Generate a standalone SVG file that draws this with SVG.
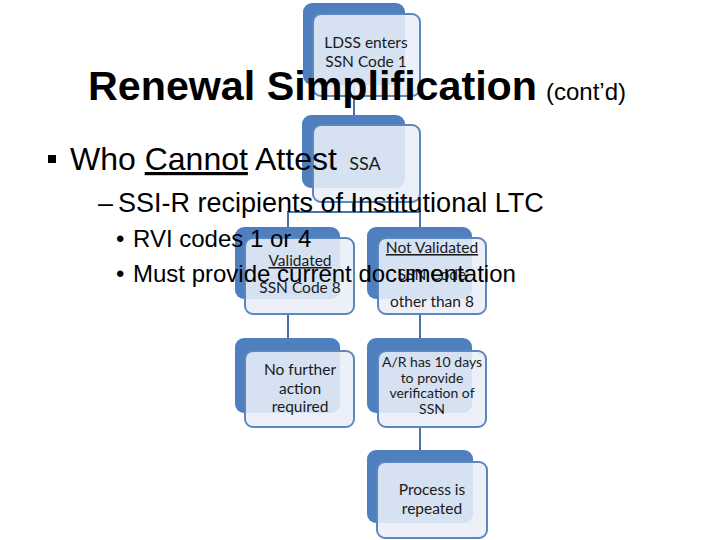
<svg xmlns="http://www.w3.org/2000/svg" width="720" height="540" viewBox="0 0 720 540">
<style>
.back{fill:#4F7FBE}
.front{fill:#E9EFF8;fill-opacity:0.88;stroke:#5B86BE;stroke-width:2}
.lbl{font-family:Lato,"Open Sans",sans-serif;font-size:15.5px;fill:#1a1a1a;text-anchor:middle}
.sm{font-size:14px}
.big{font-size:18px}
.conn{fill:none;stroke:#4A72A6;stroke-width:2}
.t{font-family:"Liberation Sans",Arial,sans-serif;fill:#000}
</style>
<rect width="720" height="540" fill="#fff"/>
<g id="connectors">
<path class="conn" d="M354,86 V116"/>
<path class="conn" d="M353,202 V212 H288 V228 M353,212 H420 V228"/>
<path class="conn" d="M288,314 V339"/>
<path class="conn" d="M420,314 V339"/>
<path class="conn" d="M420,427 V451"/>
</g>
<g id="n1">
<rect class="back" x="303" y="3" width="102" height="82" rx="9"/>
<rect class="front" x="313" y="14" width="107" height="82" rx="8"/>
<text class="lbl" x="366" y="48">LDSS enters</text>
<text class="lbl" x="366" y="67">SSN Code 1</text>
</g>
<g id="n2">
<rect class="back" x="302" y="115" width="103" height="73" rx="9"/>
<rect class="front" x="313" y="125" width="107" height="77" rx="8"/>
<text class="lbl big" x="365" y="170">SSA</text>
</g>
<g id="n3">
<rect class="back" x="235" y="227" width="105" height="72" rx="9"/>
<rect class="front" x="245" y="238" width="109" height="76" rx="8"/>
<text class="lbl" x="300" y="266" text-decoration="underline">Validated</text>
<text class="lbl" x="300" y="293">SSN Code 8</text>
</g>
<g id="n4">
<rect class="back" x="367" y="227" width="105" height="72" rx="9"/>
<rect class="front" x="378" y="238" width="108" height="76" rx="8"/>
<text class="lbl" x="432" y="253" text-decoration="underline">Not Validated</text>
<text class="lbl" x="432" y="280">SSN Code</text>
<text class="lbl" x="432" y="307">other than 8</text>
</g>
<g id="n5">
<rect class="back" x="235" y="338" width="105" height="75" rx="9"/>
<rect class="front" x="245" y="351" width="109" height="76" rx="8"/>
<text class="lbl" x="300" y="375">No further</text>
<text class="lbl" x="300" y="394">action</text>
<text class="lbl" x="300" y="412">required</text>
</g>
<g id="n6">
<rect class="back" x="367" y="338" width="105" height="75" rx="9"/>
<rect class="front" x="378" y="351" width="108" height="76" rx="8"/>
<text class="lbl sm" x="432" y="367">A/R has 10 days</text>
<text class="lbl sm" x="432" y="383">to provide</text>
<text class="lbl sm" x="432" y="398">verification of</text>
<text class="lbl sm" x="432" y="414">SSN</text>
</g>
<g id="n7">
<rect class="back" x="367" y="450" width="106" height="73" rx="9"/>
<rect class="front" x="377" y="462" width="110" height="76" rx="8"/>
<text class="lbl" x="432" y="495">Process is</text>
<text class="lbl" x="432" y="514">repeated</text>
</g>
<g id="slide-text">
<text class="t" x="88" y="100" font-size="41" font-weight="bold" textLength="449" lengthAdjust="spacingAndGlyphs">Renewal Simplification</text>
<text class="t" x="546" y="100" font-size="24">(cont’d)</text>
<rect x="48" y="155" width="8" height="8" fill="#000"/>
<text class="t" x="70" y="170" font-size="32">Who <tspan text-decoration="underline">Cannot</tspan> Attest</text>
<text class="t" x="98" y="212" font-size="27">–</text>
<text class="t" x="118" y="212" font-size="27">SSI-R recipients of Institutional LTC</text>
<text class="t" x="116" y="247" font-size="24">•</text>
<text class="t" x="133" y="247" font-size="24">RVI codes 1 or 4</text>
<text class="t" x="116" y="282" font-size="24">•</text>
<text class="t" x="133" y="282" font-size="24">Must provide current documentation</text>
</g>
</svg>
